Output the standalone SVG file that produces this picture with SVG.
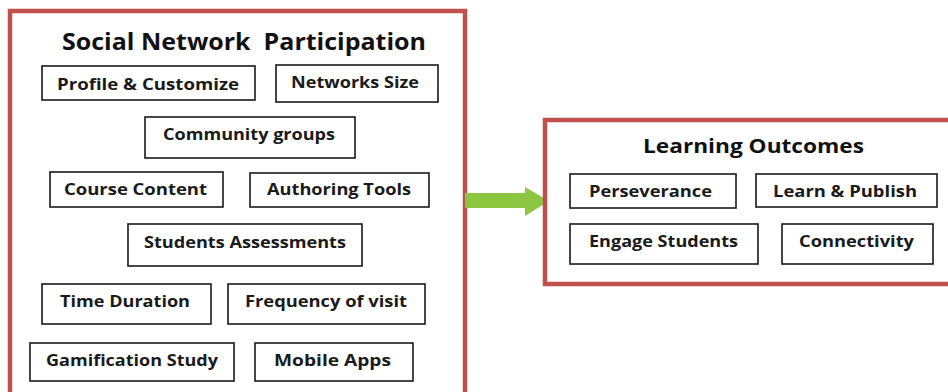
<svg xmlns="http://www.w3.org/2000/svg" width="948" height="392" viewBox="0 0 948 392">
<style>
.frame{fill:#fff;stroke:#c0504d;stroke-width:4.5}
.box{fill:#fff;stroke:#1a1a1a;stroke-width:1.6}
.t{font-family:"Open Sans","Liberation Sans",sans-serif;font-weight:bold;fill:#1a1a1a;font-size:16.5px}
.h{font-family:"Open Sans","Liberation Sans",sans-serif;font-weight:bold;fill:#111;font-size:24px;white-space:pre}
.h2{font-size:20px}
</style>
<rect width="948" height="392" fill="#fff"/>
<g id="social-network-participation">
<rect class="frame" x="10" y="11" width="455" height="400"/>
<text class="h" x="62" y="50" textLength="364" lengthAdjust="spacingAndGlyphs" xml:space="preserve">Social Network  Participation</text>
</g>
<g id="profile-customize"><rect class="box" x="42" y="66" width="213" height="34"/><text class="t" x="57" y="90" textLength="182" lengthAdjust="spacingAndGlyphs">Profile &amp; Customize</text></g>
<g id="networks-size"><rect class="box" x="276" y="65" width="162" height="37"/><text class="t" x="291" y="88" textLength="128" lengthAdjust="spacingAndGlyphs">Networks Size</text></g>
<g id="community-groups"><rect class="box" x="145" y="117" width="210" height="41"/><text class="t" x="163" y="140" textLength="172" lengthAdjust="spacingAndGlyphs">Community groups</text></g>
<g id="course-content"><rect class="box" x="50" y="172" width="173" height="35"/><text class="t" x="64" y="195" textLength="143" lengthAdjust="spacingAndGlyphs">Course Content</text></g>
<g id="authoring-tools"><rect class="box" x="250" y="173" width="179" height="34"/><text class="t" x="267" y="195" textLength="144" lengthAdjust="spacingAndGlyphs">Authoring Tools</text></g>
<g id="students-assessments"><rect class="box" x="128" y="224" width="234" height="42"/><text class="t" x="144" y="248" textLength="202" lengthAdjust="spacingAndGlyphs">Students Assessments</text></g>
<g id="time-duration"><rect class="box" x="42" y="284" width="169" height="40"/><text class="t" x="60" y="307" textLength="130" lengthAdjust="spacingAndGlyphs">Time Duration</text></g>
<g id="frequency-of-visit"><rect class="box" x="228" y="284" width="197" height="40"/><text class="t" x="245" y="307" textLength="162" lengthAdjust="spacingAndGlyphs">Frequency of visit</text></g>
<g id="gamification-study"><rect class="box" x="30" y="343" width="204" height="38"/><text class="t" x="46" y="366" textLength="172" lengthAdjust="spacingAndGlyphs">Gamification Study</text></g>
<g id="mobile-apps"><rect class="box" x="255" y="343" width="158" height="38"/><text class="t" x="274" y="366" textLength="117" lengthAdjust="spacingAndGlyphs">Mobile Apps</text></g>
<g id="connectors">
<path d="M465,193 H525 V187 L549,201 L525,216 V208 H465 Z" fill="#8cc640"/>
</g>
<g id="learning-outcomes">
<rect class="frame" x="545" y="120" width="420" height="164"/>
<text class="h h2" x="643" y="153" textLength="221" lengthAdjust="spacingAndGlyphs">Learning Outcomes</text>
</g>
<g id="perseverance"><rect class="box" x="570" y="174" width="166" height="34"/><text class="t" x="589" y="197" textLength="123" lengthAdjust="spacingAndGlyphs">Perseverance</text></g>
<g id="learn-publish"><rect class="box" x="756" y="174" width="181" height="33"/><text class="t" x="773" y="197" textLength="144" lengthAdjust="spacingAndGlyphs">Learn &amp; Publish</text></g>
<g id="engage-students"><rect class="box" x="570" y="224" width="188" height="40"/><text class="t" x="589" y="247" textLength="149" lengthAdjust="spacingAndGlyphs">Engage Students</text></g>
<g id="connectivity"><rect class="box" x="782" y="224" width="151" height="40"/><text class="t" x="799" y="247" textLength="115" lengthAdjust="spacingAndGlyphs">Connectivity</text></g>
</svg>
